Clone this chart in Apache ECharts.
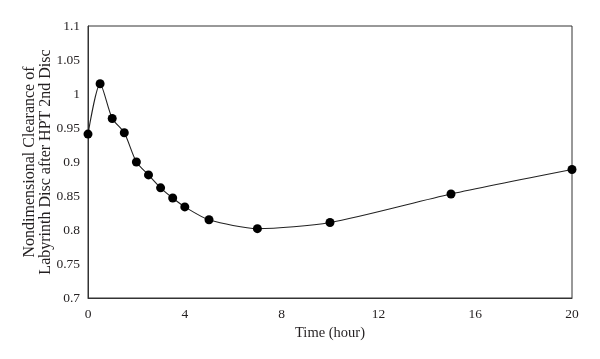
<!DOCTYPE html>
<html>
<head>
<meta charset="utf-8">
<script src="https://cdn.jsdelivr.net/npm/echarts@6/dist/echarts.min.js"></script>
<style>
html,body{margin:0;padding:0;background:#fff;}
#chart{width:600px;height:359px;}
</style>
</head>
<body>
<div id="chart"></div>
<script>
const timeHours = [0, 0.5, 1, 1.5, 2, 2.5, 3, 3.5, 4, 5, 7, 10, 15, 20];
const clearance = [0.941, 1.015, 0.964, 0.943, 0.900, 0.881, 0.862, 0.847, 0.834, 0.815, 0.802, 0.811, 0.853, 0.889];
const xTicks = [0, 4, 8, 12, 16, 20];
const yTicks = [0.7, 0.75, 0.8, 0.85, 0.9, 0.95, 1, 1.05, 1.1];
const xTitle = 'Time (hour)';
const yTitle = 'Nondimensional Clearance of\nLabyrinth Disc after HPT 2nd Disc';

const font = 'Liberation Serif';
const txt = '#231f20';
const chart = echarts.init(document.getElementById('chart'), null, {renderer: 'canvas'});
chart.setOption({
  animation: false,
  backgroundColor: '#fff',
  grid: {left: 88, right: 28, top: 26, bottom: 61, show: true, borderColor: '#333', borderWidth: 1, backgroundColor: 'transparent'},
  xAxis: {
    type: 'value', min: xTicks[0], max: xTicks[xTicks.length - 1], interval: 4,
    name: xTitle, nameLocation: 'middle', nameGap: 25,
    nameTextStyle: {fontFamily: font, fontSize: 14.5, color: txt},
    axisLine: {show: true, lineStyle: {color: '#333', width: 1}},
    axisTick: {show: false},
    splitLine: {show: false},
    axisLabel: {fontFamily: font, fontSize: 13.5, color: txt, margin: 9}
  },
  yAxis: {
    type: 'value', min: yTicks[0], max: yTicks[yTicks.length - 1], interval: 0.05,
    name: yTitle, nameLocation: 'middle', nameGap: 34, nameRotate: 90,
    nameMoveOverlap: false,
    nameTextStyle: {fontFamily: font, fontSize: 16, color: txt, lineHeight: 16},
    axisLine: {show: true, lineStyle: {color: '#333', width: 1}},
    axisTick: {show: false},
    splitLine: {show: false},
    axisLabel: {fontFamily: font, fontSize: 13.5, color: txt, margin: 8,
      formatter: v => String(parseFloat(v.toFixed(2)))}
  },
  series: [{
    type: 'line',
    data: timeHours.map((t, i) => [t, clearance[i]]),
    smooth: 0.25,
    symbol: 'circle', symbolSize: 9,
    itemStyle: {color: '#000'},
    lineStyle: {color: '#222', width: 1.1}
  }]
});
</script>
</body>
</html>
